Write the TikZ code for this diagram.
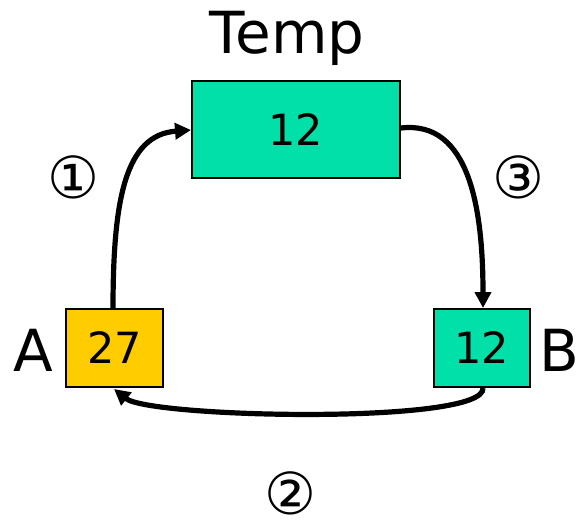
\documentclass[tikz,border=0pt]{standalone}
\usepackage{fontspec}
\setmainfont{DejaVu Sans}
\usetikzlibrary{arrows.meta}
\definecolor{tealg}{HTML}{00E0A8}
\definecolor{gold}{HTML}{FFCC00}
\begin{document}
\begin{tikzpicture}[x=1pt,y=-1pt,
  cell/.style={draw=black,line width=2.2pt,inner sep=0pt,font=\fontsize{43}{47}\selectfont},
  lbl/.style={font=\fontsize{58}{62}\selectfont,inner sep=0pt},
  num/.style={font=\fontsize{58}{62}\selectfont,inner sep=0pt,text height=42pt,text depth=0pt},
  conn/.style={line width=5.2pt,-{Triangle[length=16pt,width=16pt]}}]
\useasboundingbox (0,0) rectangle (579,525);
\node[cell,fill=tealg,minimum width=208pt,minimum height=97pt] (temp) at (296,129.5) {12};
\node[cell,fill=gold,minimum width=97pt,minimum height=78pt] (a) at (114.5,348) {27};
\node[cell,fill=tealg,minimum width=96pt,minimum height=78pt] (b) at (482,348) {12};
\node[lbl] (tl) at (287,38) {Temp};
\node[lbl] (al) at (33,350) {A};
\node[lbl] (bl) at (559,350) {B};
\node[num] (n1) at (73,177) {①};
\node[num] (n3) at (518,177) {③};
\node[num] (n2) at (290,493) {②};
\coordinate (a1) at (113,309);
\coordinate (t1) at (191,130);
\coordinate (t3) at (401,128);
\coordinate (b3) at (483,308);
\coordinate (b2) at (483,388);
\coordinate (a2) at (114,389);
\draw[conn] (a1) .. controls (113,200) and (125,135) .. (t1);
\draw[conn] (t3) .. controls (470,120) and (483,210) .. (b3);
\draw[conn] (b2) .. controls (486,425) and (150,418) .. (a2);
\end{tikzpicture}
\end{document}
